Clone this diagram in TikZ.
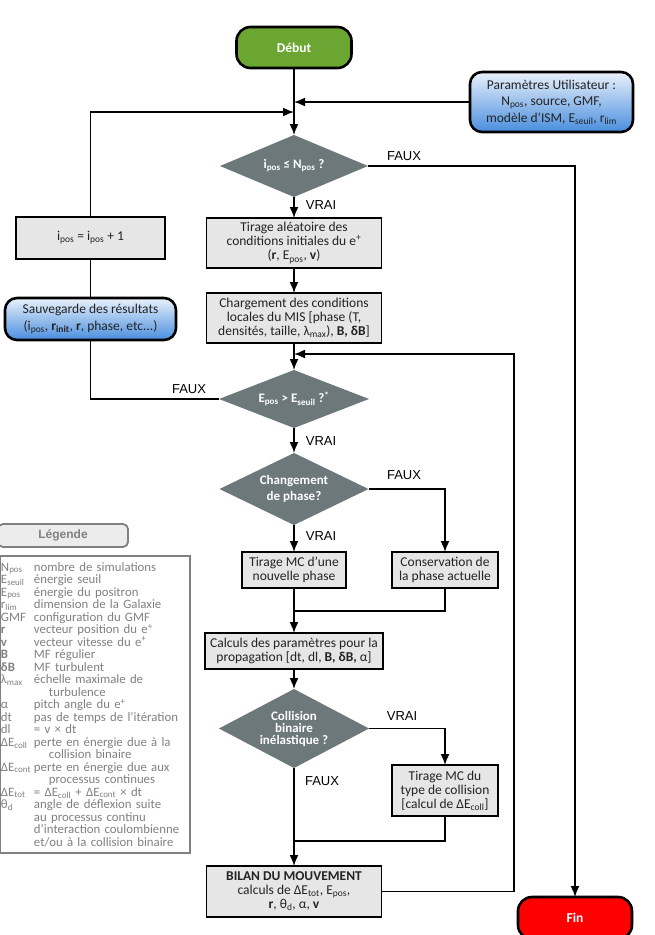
\documentclass[tikz,border=0pt]{standalone}
\usepackage{fontspec}
\setmainfont{Carlito}
\newfontfamily\arialfont{Liberation Sans}
\usetikzlibrary{arrows.meta,positioning,shapes.geometric}

\definecolor{vertdebut}{RGB}{108,166,50}
\definecolor{rougefin}{RGB}{255,0,0}
\definecolor{grisboite}{RGB}{230,230,230}
\definecolor{grislosange}{RGB}{108,120,122}
\definecolor{bleuhaut}{RGB}{234,241,251}
\definecolor{bleubas}{RGB}{72,142,222}
\definecolor{grislegende}{RGB}{128,128,128}
\definecolor{fondlegende}{RGB}{236,236,236}
\definecolor{textboite}{RGB}{35,35,35}

\newcommand{\ix}[1]{\textsubscript{#1}}
\newcommand{\ex}[1]{\textsuperscript{#1}}
\newcommand{\leg}[2]{\makebox[33pt][l]{#1}#2}

\begin{document}
\begin{tikzpicture}[x=1pt,y=-1pt,line width=1.6pt]
	\tikzstyle{terminal}
	  =[draw=black, rectangle, rounded corners=14pt, line width=2.6pt, text=white, font=\bfseries\fontsize{13.5}{15}\selectfont, outer sep=0pt]
	\tikzstyle{donnee}
	  =[draw=black, rectangle, rounded corners=12pt, line width=2.6pt, top color=bleuhaut, bottom color=bleubas, text=textboite, align=center, font=\fontsize{13.5}{16.5}\selectfont, outer sep=0pt]
	\tikzstyle{boite}
	  =[draw=black, rectangle, fill=grisboite, text=textboite, align=center, inner sep=0pt, outer sep=0pt, font=\fontsize{13.5}{14}\selectfont]
	\tikzstyle{losange}
	  =[diamond, shape aspect=2.3, fill=grislosange, draw=none, text=white, align=center, inner sep=0pt, outer sep=0pt, font=\bfseries\fontsize{13}{15.5}\selectfont]
	\tikzstyle{etiquette}
	  =[inner sep=0pt, font=\arialfont\fontsize{13}{15}\selectfont]
	\tikzstyle{fleche}
	  =[-{Latex[length=11pt,width=9pt]}]

	\useasboundingbox (0,0) rectangle (654,935);

	% colonne principale
	\node[terminal,fill=vertdebut,minimum width=115pt,minimum height=41pt] (debut)
	  at (294,47.5) {Début};
	\node[losange,shape aspect=2.4,minimum width=148pt,minimum height=62pt] (test_npos)
	  [below=67pt of debut] {i\ix{pos} ≤ N\ix{pos} ?};
	\node[boite,minimum width=175pt,minimum height=50pt] (tirage_init)
	  [below=21pt of test_npos] {Tirage aléatoire des\\conditions initiales du e\ex{+}\\(\textbf{r}, E\ix{pos}, \textbf{v})};
	\node[boite,minimum width=175pt,minimum height=50pt] (chargement)
	  [below=25pt of tirage_init] {Chargement des conditions\\locales du MIS [phase (T,\\densités, taille, λ\ix{max}), \textbf{B, δB}]};
	\node[losange,shape aspect=2.6,minimum width=150pt,minimum height=58pt] (test_energie)
	  [below=27pt of chargement] {E\ix{pos} > E\ix{seuil} ?\ex{*}};
	\node[losange,shape aspect=2.07,minimum width=149pt,minimum height=72pt] (test_phase)
	  [below=25pt of test_energie] {Changement\\de phase?};
	\node[boite,minimum width=104pt,minimum height=36pt] (tirage_phase)
	  [below=27pt of test_phase] {Tirage MC d’une\\nouvelle phase};
	\node[boite,minimum width=106pt,minimum height=36pt] (conservation)
	  [right=46pt of tirage_phase] {Conservation de\\la phase actuelle};
	\node[boite,minimum width=178pt,minimum height=36pt] (calculs)
	  [below=45pt of tirage_phase] {Calculs des paramètres pour la\\propagation [dt, dl, \textbf{B, δB,} α]};
	\node[losange,shape aspect=1.9,minimum width=150pt,minimum height=79pt,font=\bfseries\fontsize{13}{12}\selectfont] (test_collision)
	  [below=20pt of calculs] {Collision\\binaire\\inélastique ?};
	\node[boite,minimum width=106pt,minimum height=51pt] (tirage_collision)
	  [below=177pt of conservation] {Tirage MC du\\type de collision\\{[}calcul de ΔE\ix{coll}{]}};
	\node[boite,minimum width=175pt,minimum height=51pt] (bilan)
	  [below=98pt of test_collision] {\textbf{BILAN DU MOUVEMENT}\\calculs de ΔE\ix{tot}, E\ix{pos},\\\textbf{r}, θ\ix{d}, α, \textbf{v}};
	\node[terminal,fill=rougefin,minimum width=114pt,minimum height=42pt] (fin)
	  at (575,918) {Fin};

	% entrees et boucle des positrons
	\node[donnee,minimum width=163pt,minimum height=60pt] (params)
	  at (551.5,102) {Paramètres Utilisateur :\\N\ix{pos}, source, GMF,\\modèle d’ISM, E\ix{seuil}, r\ix{lim}};
	\node[boite,minimum width=149pt,minimum height=42pt] (increment)
	  at (90.5,238) {i\ix{pos} = i\ix{pos} + 1};
	\node[donnee,minimum width=171pt,minimum height=42pt] (sauvegarde)
	  [below=39pt of increment] {Sauvegarde des résultats\\(i\ix{pos}, \textbf{r\ix{init}}, \textbf{r}, phase, etc...)};

	% legende
	\node[draw=grislegende,fill=fondlegende,line width=1.8pt,rounded corners=5pt,minimum width=130pt,minimum height=23pt,text=grislegende,font=\arialfont\bfseries\fontsize{12}{14}\selectfont] (legende_titre)
	  at (63,535.5) {Légende};
	\node[draw=grislegende,line width=1.5pt,minimum width=190pt,minimum height=297pt,inner sep=0pt,text width=188pt,align=left,text=grislegende,font=\fontsize{12.8}{12.5}\selectfont] (legende)
	  at (95,704.5) {\leg{N\ix{pos}}{nombre de simulations}\\
	  \leg{E\ix{seuil}}{énergie seuil}\\
	  \leg{E\ix{pos}}{énergie du positron}\\
	  \leg{r\ix{lim}}{dimension de la Galaxie}\\
	  \leg{GMF}{configuration du GMF}\\
	  \leg{\textbf{r}}{vecteur position du e\ex{+}}\\
	  \leg{\textbf{v}}{vecteur vitesse du e\ex{+}}\\
	  \leg{\textbf{B}}{MF régulier}\\
	  \leg{\textbf{δB}}{MF turbulent}\\
	  \leg{λ\ix{max}}{échelle maximale de}\\
	  \leg{}{\hspace{15pt}turbulence}\\
	  \leg{α}{pitch angle du e\ex{+}}\\
	  \leg{dt}{pas de temps de l’itération}\\
	  \leg{dl}{= v × dt}\\
	  \leg{ΔE\ix{coll}}{perte en énergie due à la}\\
	  \leg{}{\hspace{15pt}collision binaire}\\
	  \leg{ΔE\ix{cont}}{perte en énergie due aux}\\
	  \leg{}{\hspace{15pt}processus continues}\\
	  \leg{ΔE\ix{tot}}{= ΔE\ix{coll} + ΔE\ix{cont} × dt}\\
	  \leg{θ\ix{d}}{angle de déflexion suite}\\
	  \leg{}{au processus continu}\\
	  \leg{}{d’interaction coulombienne}\\
	  \leg{}{et/ou à la collision binaire}};

	\coordinate (retour_haut) at (294,112);
	\coordinate (retour_bas) at (294,354);
	\coordinate (retour_coin) at (514,354);
	\coordinate (fusion_phase) at (294,611);
	\coordinate (fusion_collision) at (294,841);

	\draw[fleche] (debut)--(test_npos);
	\draw[fleche] (params.west)--(params.west -| debut);
	\draw[fleche] (increment) |- (retour_haut);
	\draw[fleche] (test_npos) -| (fin);
	\draw[fleche] (test_npos)--(tirage_init);
	\draw[fleche] (tirage_init)--(chargement);
	\draw[fleche] (chargement)--(test_energie);
	\draw (test_energie) -| (sauvegarde);
	\draw (sauvegarde)--(increment);
	\draw[fleche] (test_energie)--(test_phase);
	\draw[fleche] (test_phase)--(tirage_phase);
	\draw[fleche] (test_phase) -| (conservation);
	\draw (conservation) |- (fusion_phase);
	\draw[fleche] (tirage_phase)--(calculs);
	\draw[fleche] (calculs)--(test_collision);
	\draw[fleche] (test_collision) -| (tirage_collision);
	\draw (tirage_collision) |- (fusion_collision);
	\draw[fleche] (test_collision)--(bilan);
	\draw[fleche] (bilan) -| (retour_coin)--(retour_bas);

	\node[etiquette] (faux_npos) at (404,156) {FAUX};
	\node[etiquette] (vrai_npos) at (321,205) {VRAI};
	\node[etiquette] (faux_energie) at (189,389) {FAUX};
	\node[etiquette] (vrai_energie) at (321,441) {VRAI};
	\node[etiquette] (faux_phase) at (404,475) {FAUX};
	\node[etiquette] (vrai_phase) at (321,536) {VRAI};
	\node[etiquette] (vrai_collision) at (402,716) {VRAI};
	\node[etiquette] (faux_collision) at (322,781) {FAUX};
\end{tikzpicture}
\end{document}
